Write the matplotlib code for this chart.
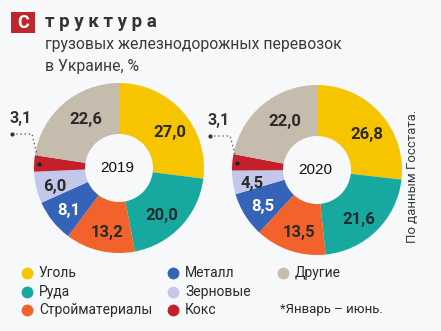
import numpy as np
import matplotlib.pyplot as plt

# Freight structure by cargo type, % (January - June)
categories = ['Уголь', 'Руда', 'Стройматериалы', 'Металл', 'Зерновые', 'Кокс', 'Другие']
share_2019 = [27.0, 20.0, 13.2, 8.1, 6.0, 3.1, 22.6]
share_2020 = [26.8, 21.6, 13.5, 8.5, 4.5, 3.1, 22.0]
years = ['2019', '2020']

colors = ['#f6c500', '#17a89f', '#f2622b', '#3563b8', '#c3c8ea', '#c41f2a', '#c5bcae']
label_colors = ['#2a2a2a', '#1d2a30', '#2a2a2a', 'white', '#2a2a2a', '#2a2a2a', '#2a2a2a']
# small pixel nudges for the ring labels (dx, dy down)
nudges = [(4, 6), (-2, 5), (2, 4), (-2, 4), (-4, 4), (0, 0), (7, -1)]

W, H = 441, 331
bg = '#f6f8fa'
main_font = ['Roboto', 'DejaVu Sans']

fig = plt.figure(figsize=(W / 100, H / 100), dpi=100, facecolor=bg)
ax = fig.add_axes([0, 0, 1, 1])
ax.set_facecolor(bg)


def py(y):
    # pixel row (from top) to data y
    return H - y


def fmt(v):
    return f'{v:.1f}'.replace('.', ',')


def donut(values, cx, cy, year):
    R, r_in = 85, 34
    wedges, _ = ax.pie(values, colors=colors, startangle=90, counterclock=False,
                       center=(cx, py(cy)), radius=R,
                       wedgeprops=dict(width=R - r_in, edgecolor='none'))
    for i, w in enumerate(wedges):
        mid = np.deg2rad((w.theta1 + w.theta2) / 2)
        if categories[i] == 'Кокс':
            # outside label with dotted leader
            ex = cx + 80 * np.cos(mid)
            ey = py(cy) + 80 * np.sin(mid)
            ax.plot([cx - 107, cx - 87, ex], [py(cy - 34), py(cy - 34), ey],
                    ls=(0, (1, 2)), color='#666666', lw=1.0)
            ax.plot([cx - 107], [py(cy - 34)], 'o', ms=2, color='#333333')
            ax.plot([ex], [ey], 'o', ms=2, color='#222222')
            ax.text(cx - 98, py(cy - 49), fmt(values[i]),
                    ha='center', va='center', fontsize=11.5, fontweight='bold',
                    color='#333333', family=main_font)
            continue
        dx, dy = nudges[i]
        x = cx + 62 * np.cos(mid) + dx
        y = py(cy) + 62 * np.sin(mid) - dy
        ax.text(x, y, fmt(values[i]), ha='center', va='center',
                fontsize=12, fontweight='bold', color=label_colors[i], family=main_font)
    ax.text(cx - 2, py(cy), year, ha='center', va='center', fontsize=11,
            color='#111111', family=['Liberation Sans', 'DejaVu Sans'])


donut(share_2019, 119, 168, years[0])
donut(share_2020, 317, 170, years[1])

# title block
ax.add_patch(plt.Rectangle((11, py(33)), 24, 21, color='#c0272d', lw=0))
ax.text(23, py(22.5), 'С', ha='center', va='center', color='white',
        fontsize=13, fontweight='bold', family=main_font)
ax.text(45, py(22), 'т р у к т у р а', ha='left', va='center', color='#333333',
        fontsize=13.5, fontweight='bold', family=main_font)
ax.text(45, py(45), 'грузовых железнодорожных перевозок', ha='left', va='center',
        color='#3a3a3a', fontsize=11.3, family=main_font)
ax.text(45, py(67), 'в Украине, %', ha='left', va='center',
        color='#3a3a3a', fontsize=11.3, family=main_font)

ax.text(413, py(176), 'По данным Госстата.', rotation=90, ha='center', va='center',
        color='#3a3a3a', fontsize=9.5, family=main_font)

# legend, three columns
legend_x = [27, 27, 27, 173, 173, 173, 283]
legend_y = [273, 292, 310, 273, 292, 310, 273]
for i, name in enumerate(categories):
    ax.plot([legend_x[i]], [py(legend_y[i])], 'o', ms=8.5, color=colors[i], mec='none')
    ax.text(legend_x[i] + 12, py(legend_y[i]), name, ha='left', va='center',
            fontsize=10, color='#2a2a2a', family=main_font)
ax.text(280, py(310), '*Январь – июнь.', ha='left', va='center',
        fontsize=9.5, color='#2a2a2a', family=main_font)

ax.set_xlim(0, W)
ax.set_ylim(0, H)
ax.set_aspect('auto')
ax.axis('off')

fig.savefig('out.png', dpi=100, facecolor=bg)
